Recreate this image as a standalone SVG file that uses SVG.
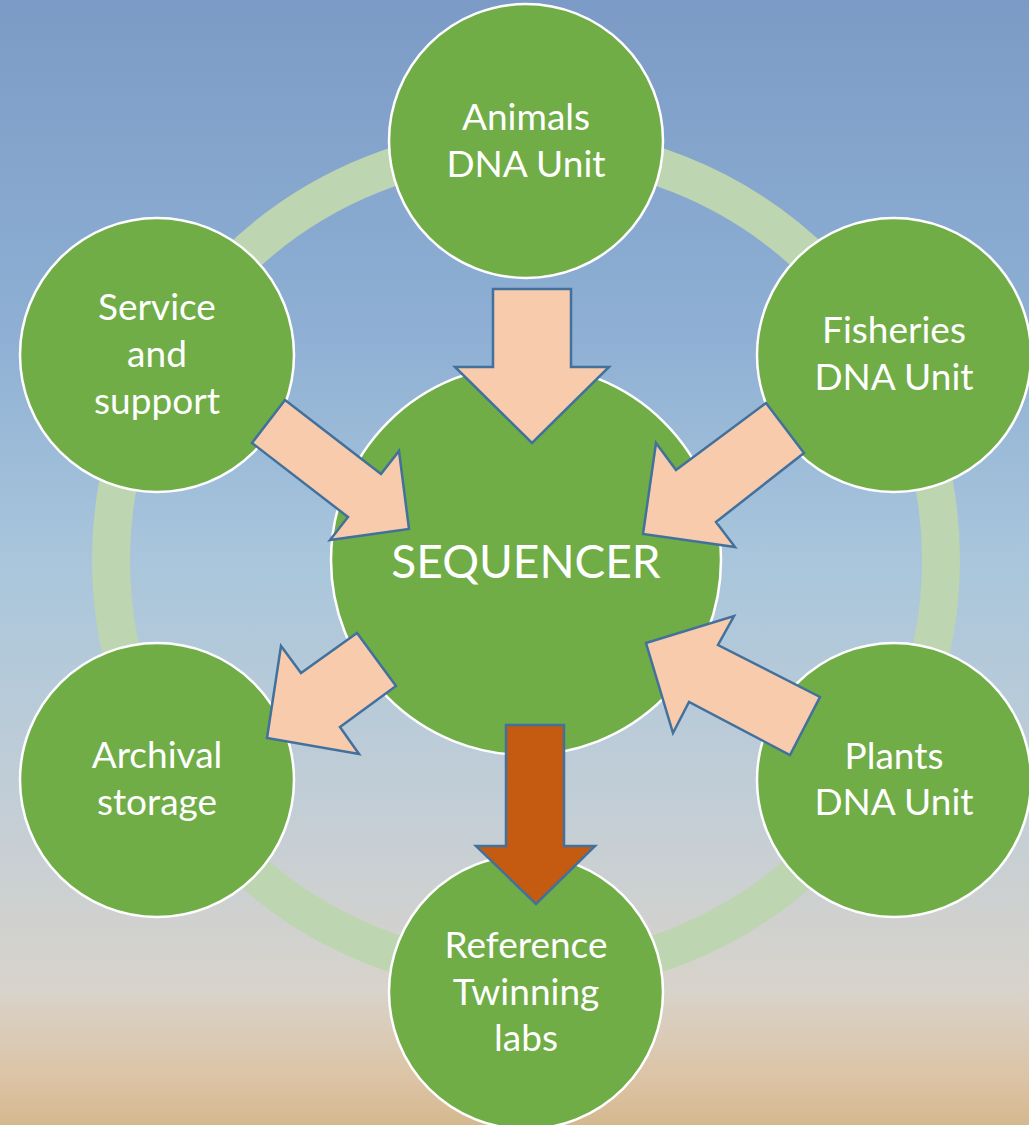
<svg xmlns="http://www.w3.org/2000/svg" width="1029" height="1125" viewBox="0 0 1029 1125">
<defs>
<linearGradient id="bg" x1="0" y1="0" x2="0" y2="1">
<stop offset="0" stop-color="#7b9bc6"/>
<stop offset="0.3" stop-color="#8fb0d4"/>
<stop offset="0.5" stop-color="#a9c6dc"/>
<stop offset="0.72" stop-color="#c3ced6"/>
<stop offset="0.88" stop-color="#d8d3cb"/>
<stop offset="0.96" stop-color="#dcc3a4"/>
<stop offset="1" stop-color="#d4b88f"/>
</linearGradient>
<style>
.node{fill:#70ad47;stroke:#ffffff;stroke-width:2.5}
.lbl{font-family:Lato,"Open Sans",sans-serif;font-size:37px;fill:#ffffff;text-anchor:middle}
.big{font-size:46px}
.arr{fill:#f8cbad;stroke:#41719c;stroke-width:2.5;stroke-linejoin:miter}
.arr2{fill:#c55a11;stroke:#41719c;stroke-width:2.5}
</style>
</defs>
<rect x="0" y="0" width="1029" height="1125" fill="url(#bg)"/>
<circle cx="526" cy="560" r="415" fill="none" stroke="#bdd5b0" stroke-width="38"/>
<g id="animals"><circle class="node" cx="526" cy="141" r="137"/><text class="lbl" x="526" y="130">Animals</text><text class="lbl" x="526" y="177">DNA Unit</text></g>
<g id="fisheries"><circle class="node" cx="894" cy="355" r="137"/><text class="lbl" x="894" y="343">Fisheries</text><text class="lbl" x="894" y="390">DNA Unit</text></g>
<g id="plants"><circle class="node" cx="894" cy="780" r="137"/><text class="lbl" x="894" y="769">Plants</text><text class="lbl" x="894" y="815">DNA Unit</text></g>
<g id="reference"><circle class="node" cx="526" cy="992" r="137"/><text class="lbl" x="526" y="958">Reference</text><text class="lbl" x="526" y="1005">Twinning</text><text class="lbl" x="526" y="1051">labs</text></g>
<g id="archival"><circle class="node" cx="157" cy="780" r="137"/><text class="lbl" x="157" y="768">Archival</text><text class="lbl" x="157" y="815">storage</text></g>
<g id="service"><circle class="node" cx="157" cy="355" r="137"/><text class="lbl" x="157" y="320">Service</text><text class="lbl" x="157" y="367">and</text><text class="lbl" x="157" y="414">support</text></g>
<g id="sequencer"><circle class="node" cx="526" cy="560" r="195"/><text class="lbl big" x="526" y="578">SEQUENCER</text></g>
<g id="connectors">
<polygon class="arr" points="493,289 571,289 571,367 609,367 532,443 455,367 493,367"/>
<polygon class="arr" points="285,400 381,474 399,451 409,529 330,540 348,517 252,443"/>
<polygon class="arr" points="766,403 804,453 716,522 735,547 643,534 656,443 676,470"/>
<polygon class="arr" points="357,633 396,686 340,727 359,754 267,738 281,646 301,673"/>
<polygon class="arr" points="646,643 734,616 718,645 820,697 790,755 689,702 673,733"/>
<polygon class="arr2" points="506,725 564,725 564,846 595,846 536,904 476,846 506,846"/>
</g>
</svg>
